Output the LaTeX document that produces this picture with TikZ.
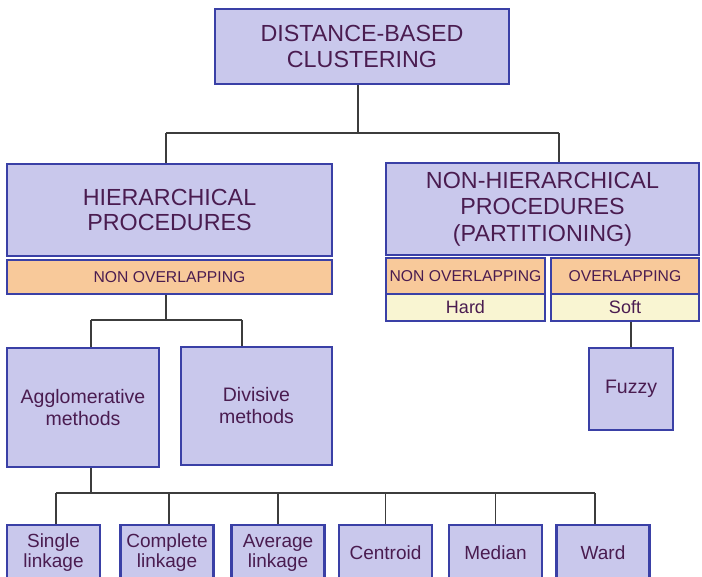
\documentclass[tikz,border=0pt]{standalone}
\usepackage{fontspec}
\setmainfont{Liberation Sans}
\definecolor{boxfill}{HTML}{C9C8EC}
\definecolor{boxline}{HTML}{3A40A6}
\definecolor{txt}{HTML}{4A1C50}
\definecolor{orangefill}{HTML}{F8C99A}
\definecolor{creamfill}{HTML}{F9F5D2}
\definecolor{wire}{HTML}{3C3C3C}
\begin{document}
\begin{tikzpicture}[x=1pt,y=-1pt,
  box/.style={draw=boxline, line width=2.5pt, fill=boxfill, text=txt, align=center, inner sep=0pt, anchor=center},
  bigbox/.style={box, font=\fontsize{23.3}{25.5}\selectfont},
  midbox/.style={box, font=\fontsize{19.5}{22}\selectfont},
  leafbox/.style={box, font=\fontsize{19}{20}\selectfont, minimum width=93pt, minimum height=55pt},
  tagbox/.style={box, fill=orangefill, font=\fontsize{15.7}{18}\selectfont},
  typebox/.style={box, fill=creamfill, font=\fontsize{18}{20}\selectfont},
  wire/.style={draw=wire, line width=1.5pt}
]
\useasboundingbox (0,0) rectangle (702,577);
\clip (0,0) rectangle (702,577);
\fill[white] (0,0) rectangle (702,577);

% coordinates for the buses
\coordinate (j1) at (358,133);
\coordinate (j1l) at (166,133);
\coordinate (j1r) at (559,133);
\coordinate (j2) at (166,320);
\coordinate (j2l) at (91,320);
\coordinate (j2r) at (242,320);
\coordinate (j3) at (91,493);
\coordinate (j3l) at (56,493);
\coordinate (j3r) at (595,493);

% nodes
\node[bigbox, minimum width=294pt, minimum height=75pt] (top) at (362,46.5) {DISTANCE-BASED\\CLUSTERING};
\node[bigbox, minimum width=325pt, minimum height=92pt] (hier) at (169.5,210) {HIERARCHICAL\\PROCEDURES};
\node[tagbox, minimum width=325pt, minimum height=34pt] (hno) at (169.5,277) {NON OVERLAPPING};
\node[bigbox, minimum width=313pt, minimum height=92pt, font=\fontsize{23.3}{26.5}\selectfont] (nonhier) at (542.5,209) {NON-HIERARCHICAL\\PROCEDURES\\(PARTITIONING)};
\node[tagbox, minimum width=159pt, minimum height=36pt] (nno) at (465.5,276) {NON OVERLAPPING};
\node[typebox, minimum width=159pt, minimum height=27pt] (hard) at (465.5,307.5) {Hard};
\node[tagbox, minimum width=148pt, minimum height=36pt] (ov) at (625,276) {OVERLAPPING};
\node[typebox, minimum width=148pt, minimum height=27pt] (soft) at (625,307.5) {Soft};
\node[midbox, minimum width=84pt, minimum height=82pt] (fuzzy) at (631,389) {Fuzzy};
\node[midbox, minimum width=152pt, minimum height=119pt] (agglo) at (83,407.5) {Agglomerative\\methods};
\node[midbox, minimum width=151pt, minimum height=118pt] (divis) at (256.5,406) {Divisive\\methods};
\node[leafbox] (single) at (53.5,552.5) {Single\\linkage};
\node[leafbox] (complete) at (167,552.5) {Complete\\linkage};
\node[leafbox] (average) at (278,552.5) {Average\\linkage};
\node[leafbox] (centroid) at (385.5,552.5) {Centroid};
\node[leafbox] (median) at (495.5,552.5) {Median};
\node[leafbox] (ward) at (603,552.5) {Ward};

% connectors
\path[wire] (top.south -| j1) -- (j1);
\path[wire] (j1l) -- (j1r);
\path[wire] (j1l) -- (j1l |- hier.north);
\path[wire] (j1r) -- (j1r |- nonhier.north);
\path[wire] (j2 |- hno.south) -- (j2);
\path[wire] (j2l) -- (j2r);
\path[wire] (j2l) -- (j2l |- agglo.north);
\path[wire] (j2r) -- (j2r |- divis.north);
\path[wire] (soft.south -| fuzzy.north) -- (fuzzy.north);
\path[wire] (j3 |- agglo.south) -- (j3);
\path[wire] (j3l) -- (j3r);
\path[wire] (j3l) -- (j3l |- single.north);
\path[wire] ([xshift=2pt]complete.north |- j3) -- ([xshift=2pt]complete.north);
\path[wire] (average.north |- j3) -- (average.north);
\path[wire] (centroid.north |- j3) -- (centroid.north);
\path[wire] (median.north |- j3) -- (median.north);
\path[wire] (j3r) -- (j3r |- ward.north);
\end{tikzpicture}
\end{document}
